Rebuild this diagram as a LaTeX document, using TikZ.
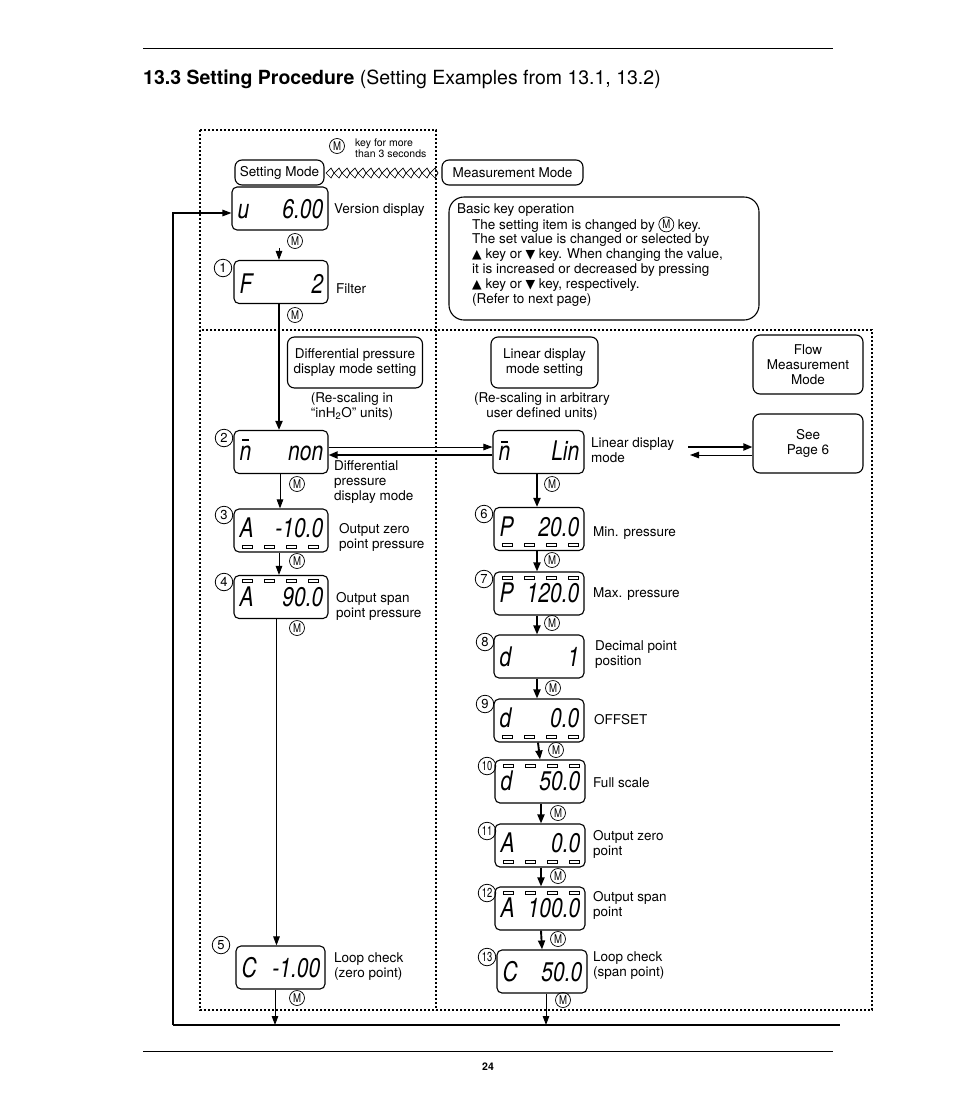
\documentclass[tikz,border=0pt]{standalone}
\usepackage{fontspec}
\setmainfont{TeX Gyre Heros}
\newfontfamily\dejavu{DejaVu Sans}
\usepackage{graphicx}
\usetikzlibrary{calc,arrows.meta}
\newcommand\sq[1]{\scalebox{0.78}[1]{#1}}
\newcommand\tri[1]{{\dejavu\fontsize{12.5}{10}\selectfont #1}}
\begin{document}
\begin{tikzpicture}[x=1pt,y=-1pt,
  txt/.style={font=\fontsize{13.5}{15}\selectfont,inner sep=0pt,align=left},
  ctxt/.style={font=\fontsize{13.5}{15}\selectfont,inner sep=0pt,align=center},
  small/.style={font=\fontsize{10.5}{11.5}\selectfont,inner sep=0pt,align=left},
  dbox/.style={draw,rounded corners=5pt,line width=1.1pt,minimum height=43pt,inner sep=0pt},
  lbox/.style={draw,rounded corners=7pt,line width=1.1pt,inner sep=0pt,align=center,font=\fontsize{13.5}{15}\selectfont},
  lcdt/.style={font=\fontsize{27}{27}\selectfont\itshape,inner sep=0pt},
  arr/.style={line width=1pt,-{Triangle[length=9pt,width=6.5pt]}},
  tarr/.style={line width=1.9pt,-{Triangle[length=9pt,width=7pt]}},
  mk/.style={circle,draw,line width=0.7pt,inner sep=0pt,minimum size=15pt,font=\fontsize{12}{12}\selectfont},
  cn/.style={circle,draw,line width=0.8pt,inner sep=0pt,minimum size=17.5pt,font=\fontsize{13}{13}\selectfont},
  dots/.style={line width=1.4pt,dash pattern=on 2pt off 2pt},
  bar/.style={line width=0.9pt,fill=white}]
\fill[white] (0,0) rectangle (954,1098);
\useasboundingbox (0,0) rectangle (954,1098);

% page rules, title, page number
\draw[line width=0.9pt] (143,48) -- (833,48);
\draw[line width=0.9pt] (143,1051) -- (833,1051);
\node[anchor=base west,inner sep=0pt,font=\fontsize{19.5}{22}\selectfont] (title) at (143,84)
  {\textbf{13.3 Setting Procedure} (Setting Examples from 13.1, 13.2)};
\node[inner sep=0pt,font=\fontsize{10.5}{12}\selectfont\bfseries] (pgno) at (488,1067) {24};

% dotted regions
\draw[dots] (200,130) -- (436,130) -- (436,1010);
\draw[dots] (200,130) -- (200,1010) -- (872,1010) -- (872,330) -- (200,330);

% display macro: name, xc, yc, width, left, right, baseline offset
\newcommand\lcd[7]{%
  \node[dbox,minimum width=#4pt] (#1) at (#2,#3) {};
  \node[lcdt,anchor=base west] (#1l) at ($(#1.west)+(6,#7)$) {\sq{#5}};
  \node[lcdt,anchor=base east] (#1r) at ($(#1.east)+(-5,#7)$) {\sq{#6}};}
\newcommand\barsS[1]{\foreach \o in {9,31,53,75}{\draw[bar] ($(#1.south west)+(\o,-7.5)$) rectangle ++(10,3);}}
\newcommand\barsN[1]{\foreach \o in {9,31,53,75}{\draw[bar] ($(#1.north west)+(\o,4.5)$) rectangle ++(10,3);}}

% mode boxes
\node[lbox,minimum width=89pt,minimum height=25pt] (setm) at (279.5,172.5) {Setting Mode};
\node[lbox,minimum width=141pt,minimum height=25pt] (measm) at (512.5,172.5) {Measurement Mode};
\foreach \i in {0,...,13}{\draw[line width=0.7pt] ({326+8*\i},173) -- ++(5,-5) -- ++(3,5) -- ++(-3,5) -- cycle;}
\node[mk] (mk0) at (337,146) {\scalebox{0.8}[1]{M}};
\node[small,anchor=west] (keytxt) at (355,148) {key for more\\than 3 seconds};

% basic key operation
\node[draw,rounded corners=15pt,line width=1.1pt,minimum width=310pt,minimum height=123pt,inner sep=0pt] (basic) at (604,258.5) {};
\node[txt,anchor=base west] (basic1) at (457,213) {Basic key operation};
\node[txt,anchor=base west] (basic2a) at (472,229) {The setting item is changed by};
\node[mk,anchor=west] (mkb) at ([xshift=3.5pt,yshift=4.6pt]basic2a.base east) {\scalebox{0.8}[1]{M}};
\node[txt,anchor=base west] (basic2b) at ([xshift=3.5pt]mkb.east |- basic2a.base) {key.};
\node[txt,anchor=north west] (basic3) at (472,233)
  {The set value is changed or selected by\\
   \tri{▲} key or \tri{▼} key. When changing the value,\\
   it is increased or decreased by pressing\\
   \tri{▲} key or \tri{▼} key, respectively.\\
   (Refer to next page)};

% left column displays
\lcd{V}{280}{208.5}{96}{u}{6.00}{10}
\lcd{F}{281}{282}{94}{F}{2}{11}
\lcd{N1}{281}{452}{94}{n}{non}{8}
\lcd{A3}{281}{530.5}{94}{A}{-10.0}{7}
\lcd{A4}{281}{597}{94}{A}{90.0}{9}
\lcd{C5}{280.5}{967.5}{89}{C}{-1.00}{10}
\barsS{A3}
\barsN{A4}
\fill ($(N1.north west)+(9,9)$) rectangle ++(7,2.2);

% right column displays
\lcd{NL}{538.5}{452}{91}{n}{Lin}{8}
\lcd{P6}{539}{529}{90}{P}{20.0}{7}
\lcd{P7}{539}{593.5}{90}{P}{120.0}{9}
\lcd{D8}{539}{656.5}{90}{d}{1}{10}
\lcd{D9}{539}{720.5}{90}{d}{0.0}{7}
\lcd{D10}{540}{781.5}{90}{d}{50.0}{9}
\lcd{A11}{540}{845.5}{90}{A}{0.0}{7}
\lcd{A12}{540}{908.5}{90}{A}{100.0}{9}
\lcd{C13}{542}{971.5}{90}{C}{50.0}{10}
\barsS{P6}\barsN{P7}\barsS{D9}\barsN{D10}\barsS{A11}\barsN{A12}
\fill ($(NL.north west)+(9,11)$) rectangle ++(7,2.2);

% circled numbers
\node[cn] (c1) at (223,268) {1};
\node[cn] (c2) at (224,438) {2};
\node[cn] (c3) at (224,515) {3};
\node[cn] (c4) at (224,582) {4};
\node[cn] (c5) at (221,945) {5};
\node[cn] (c6) at (484,514) {6};
\node[cn] (c7) at (484,579) {7};
\node[cn] (c8) at (485,642) {8};
\node[cn] (c9) at (485,704) {9};
\node[cn] (c10) at (487,766) {\scalebox{0.72}[1]{10}};
\node[cn] (c11) at (487,831) {\scalebox{0.72}[1]{11}};
\node[cn] (c12) at (487,893) {\scalebox{0.72}[1]{12}};
\node[cn] (c13) at (487,957) {\scalebox{0.72}[1]{13}};

% labels
\node[txt,anchor=west] (lV) at (334,210) {Version display};
\node[txt,anchor=west] (lF) at (336,289) {Filter};
\node[txt,anchor=west] (lN1) at (334,482) {Differential\\pressure\\display mode};
\node[txt,anchor=west] (lA3) at (339,537.5) {Output zero\\point pressure};
\node[txt,anchor=west] (lA4) at (336,606.5) {Output span\\point pressure};
\node[txt,anchor=west] (lC5) at (334,966.5) {Loop check\\(zero point)};
\node[txt,anchor=west] (lNL) at (591,450.5) {Linear display\\mode};
\node[txt,anchor=west] (lP6) at (593,533) {Min. pressure};
\node[txt,anchor=west] (lP7) at (593,594) {Max. pressure};
\node[txt,anchor=west] (lD8) at (595,654.5) {Decimal point\\position};
\node[txt,anchor=west] (lD9) at (594,720) {OFFSET};
\node[txt,anchor=west] (lD10) at (593,783) {Full scale};
\node[txt,anchor=west] (lA11) at (593,844.5) {Output zero\\point};
\node[txt,anchor=west] (lA12) at (593,905.5) {Output span\\point};
\node[txt,anchor=west] (lC13) at (593,965.5) {Loop check\\(span point)};

% mode setting boxes
\node[lbox,minimum width=135pt,minimum height=51pt] (dp) at (355,362.5) {Differential pressure\\display mode setting};
\node[ctxt] (dpn) at (352,406.5) {(Re-scaling in\\“inH\textsubscript{2}O” units)};
\node[lbox,minimum width=107pt,minimum height=51pt] (lin) at (544.5,362.5) {Linear display\\mode setting};
\node[ctxt] (linn) at (542,406.5) {(Re-scaling in arbitrary\\user defined units)};
\node[lbox,minimum width=110pt,minimum height=59pt] (flow) at (808,364.5) {Flow\\Measurement\\Mode};
\node[lbox,minimum width=110pt,minimum height=59pt] (see) at (808,443.5) {See\\Page 6};

% connectors left column
\draw[arr] ([xshift=-2pt,yshift=12pt]F.north) -- ([xshift=-2pt]F.north);
\node[mk] (m1) at (295,241) {\scalebox{0.8}[1]{M}};
\draw[tarr] ([xshift=-2pt]F.south) -- ([xshift=-2pt]N1.north);
\node[mk] (m2) at (295,315) {\scalebox{0.8}[1]{M}};
\draw[arr] ([xshift=-1pt]N1.south) -- ([xshift=-1pt]A3.north);
\node[mk] (m3) at (297,484) {\scalebox{0.8}[1]{M}};
\draw[arr] ([xshift=-2pt]A3.south) -- ([xshift=-2pt]A4.north);
\node[mk] (m4) at (297,561) {\scalebox{0.8}[1]{M}};
\draw[arr] ([xshift=-4.5pt]A4.south) -- ([xshift=-4pt]C5.north);
\node[mk] (m5) at (297,628) {\scalebox{0.8}[1]{M}};
\coordinate (e5) at (275,1025);
\coordinate (e13) at (546,1025);
\coordinate (lpl) at (173,1025);
\coordinate (lpt) at (173,213);
\draw[arr] ([xshift=-5.5pt]C5.south) -- (e5);
\node[mk] (m6) at (297,998) {\scalebox{0.8}[1]{M}};

% loop back
\draw[line width=1.2pt] (lpl) -- (840,1025);
\draw[arr,line width=1.2pt] (lpl) -- (lpt) -- ($(V.west)+(0,4.5)$);

% connectors right column
\draw[tarr] ([xshift=-1.5pt]NL.south) -- ([xshift=-2pt]P6.north);
\node[mk] (m7) at (552,484) {\scalebox{0.8}[1]{M}};
\draw[tarr] ([xshift=-2pt]P6.south) -- ([xshift=-2pt]P7.north);
\node[mk] (m8) at (552,560) {\scalebox{0.8}[1]{M}};
\draw[tarr] ([xshift=-2pt]P7.south) -- ([xshift=-2pt]D8.north);
\node[mk] (m9) at (552,623) {\scalebox{0.8}[1]{M}};
\draw[tarr] ([xshift=-2pt]D8.south) -- ([xshift=-2pt]D9.north);
\node[mk] (m10) at (553,688) {\scalebox{0.8}[1]{M}};
\draw[tarr] ([xshift=-1pt]D9.south) -- ([xshift=0pt]D10.north);
\node[mk] (m11) at (556,750) {\scalebox{0.8}[1]{M}};
\draw[tarr] ([xshift=1pt]D10.south) -- ([xshift=1pt]A11.north);
\node[mk] (m12) at (558,813) {\scalebox{0.8}[1]{M}};
\draw[tarr] ([xshift=1pt]A11.south) -- ([xshift=1pt]A12.north);
\node[mk] (m13) at (558,876) {\scalebox{0.8}[1]{M}};
\draw[tarr] ([xshift=1pt]A12.south) -- ([xshift=0pt]C13.north);
\node[mk] (m14) at (558,939) {\scalebox{0.8}[1]{M}};
\draw[arr] ([xshift=4pt]C13.south) -- (e13);
\node[mk] (m15) at (563,1000) {\scalebox{0.8}[1]{M}};

% horizontal connectors
\draw[arr] ([yshift=5pt]N1.east) -- ([yshift=5pt]NL.west);
\draw[tarr] ([yshift=-3pt]NL.west) -- ([yshift=-3pt]N1.east);
\coordinate (s1) at (688,447);
\coordinate (s2) at (690,455);
\draw[tarr] (s1) -- (see.west |- s1);
\draw[arr] (see.west |- s2) -- (s2);
\end{tikzpicture}
\end{document}
